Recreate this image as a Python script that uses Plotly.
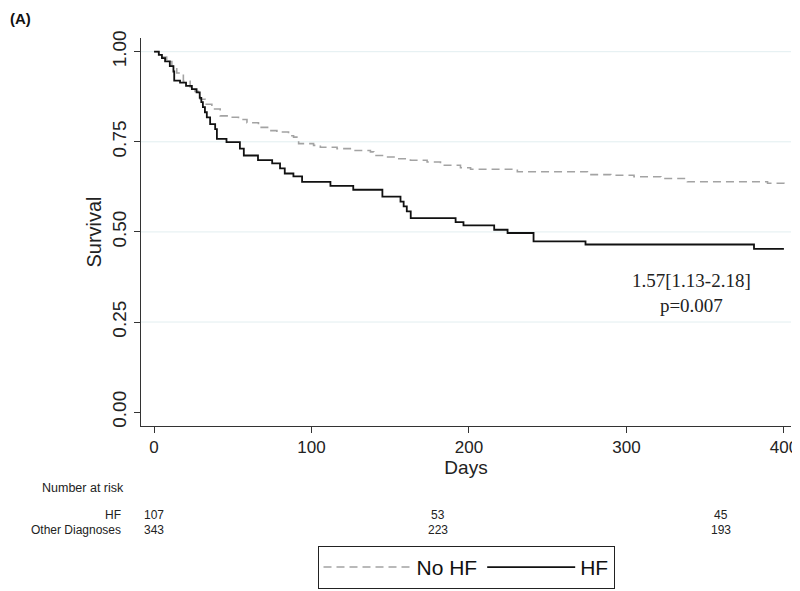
import plotly.graph_objects as go

# ---- data ----
hf_days = [0, 3, 5, 7, 10, 12.3, 12.8, 16.5, 20.3, 24, 27, 29, 30, 31, 32.3, 33.5, 35.6, 38.8, 39.9,
           46, 54.5, 57, 66, 75, 80, 83, 88.5, 94, 112, 126.5, 145, 156.5, 158.5, 160.5, 163,
           191.5, 196.5, 216, 224.5, 241, 274, 381, 400]
hf_surv = [1.0, 0.991, 0.982, 0.973, 0.960, 0.945, 0.920, 0.914, 0.905, 0.896, 0.887, 0.872, 0.860,
           0.846, 0.832, 0.818, 0.799, 0.785, 0.758, 0.749, 0.731, 0.712, 0.699, 0.690, 0.676, 0.662,
           0.654, 0.639, 0.628, 0.617, 0.598, 0.584, 0.571, 0.557, 0.538, 0.527, 0.518, 0.506, 0.497,
           0.474, 0.465, 0.453, 0.453]

nohf_days = [0, 3, 5, 8, 11.3, 14.4, 16.5, 18.6, 22.9, 26, 28.2, 29.3, 32.4, 36.7, 42, 48.3, 53.6,
             59, 66.3, 72.7, 78, 85.4, 88.6, 91.8, 101.3, 105.6, 116.2, 126.7, 137.4, 139.5, 145.8,
             154.4, 162.8, 173.4, 181.9, 194.6, 201, 230.7, 275.2, 290, 304.8, 321.8, 338.7, 389.6, 400]
nohf_surv = [1.0, 0.993, 0.985, 0.973, 0.960, 0.941, 0.937, 0.918, 0.902, 0.890, 0.877, 0.868, 0.854,
             0.841, 0.822, 0.818, 0.812, 0.803, 0.790, 0.781, 0.777, 0.767, 0.763, 0.745, 0.740,
             0.735, 0.731, 0.726, 0.722, 0.712, 0.708, 0.703, 0.699, 0.694, 0.685, 0.678, 0.674,
             0.667, 0.659, 0.657, 0.653, 0.648, 0.639, 0.635, 0.632]

x_ticks = [0, 100, 200, 300, 400]
y_ticks = [0.0, 0.25, 0.5, 0.75, 1.0]
y_ticklabels = ["0.00", "0.25", "0.50", "0.75", "1.00"]
y_gridlines = [0.25, 0.5, 0.75, 1.0]

risk_times = [0, 180, 360]
risk_groups = ["HF", "Other Diagnoses"]
risk_hf = [107, 53, 45]
risk_other = [343, 223, 193]

hr_text = "1.57[1.13-2.18]"
p_text = "p=0.007"

SANS = "Liberation Sans, Arial, sans-serif"

fig = go.Figure()
fig.add_trace(go.Scatter(x=nohf_days, y=nohf_surv, mode="lines", name="No HF",
                         line=dict(shape="hv", color="#a3a3a3", width=1.6, dash="8px,5px")))
fig.add_trace(go.Scatter(x=hf_days, y=hf_surv, mode="lines", name="HF",
                         line=dict(shape="hv", color="#111111", width=1.8)))

shapes = [dict(type="line", xref="paper", x0=0, x1=1, yref="y", y0=g, y1=g, layer="below",
               line=dict(color="#e2eef0", width=1)) for g in y_gridlines]

annotations = []
annotations.append(dict(x=341.5, y=0.33, xref="x", yref="y", text=hr_text + "<br>" + p_text,
                        showarrow=False, align="center",
                        font=dict(family="Liberation Serif, Times New Roman, serif", size=19, color="#222")))
annotations.append(dict(x=-0.205, y=1.0765, xref="paper", yref="paper", text="<b>(A)</b>",
                        showarrow=False, xanchor="left", yanchor="top",
                        font=dict(family=SANS, size=15, color="#111")))
annotations.append(dict(x=-0.155, y=-0.161, xref="paper", yref="paper", text="Number at risk",
                        showarrow=False, xanchor="left", yanchor="middle",
                        font=dict(family=SANS, size=12.5, color="#222")))
row_y = [-0.2285, -0.2680]
for gi, (g, vals) in enumerate(zip(risk_groups, [risk_hf, risk_other])):
    annotations.append(dict(x=-0.028, y=row_y[gi], xref="paper", yref="paper", text=g,
                            showarrow=False, xanchor="right", yanchor="middle",
                            font=dict(family=SANS, size=12, color="#222")))
    for t, v in zip(risk_times, vals):
        annotations.append(dict(x=t, y=row_y[gi], xref="x", yref="paper", text=str(v),
                                showarrow=False, xanchor="center", yanchor="middle",
                                font=dict(family=SANS, size=12, color="#222")))

fig.update_layout(
    width=800, height=591,
    margin=dict(l=133, r=10, t=30, b=161),
    paper_bgcolor="white", plot_bgcolor="white",
    font=dict(family=SANS, color="#222"),
    annotations=annotations,
    shapes=shapes,
    showlegend=True,
    legend=dict(orientation="h", x=0.5, xanchor="center", y=-0.309, yanchor="top",
                bordercolor="#222", borderwidth=1, font=dict(family=SANS, size=21, color="#111"),
                itemwidth=88, bgcolor="white"),
    xaxis=dict(range=[-8.3, 404.5], tickvals=x_ticks, showgrid=False, zeroline=False,
               showline=True, linecolor="#333", linewidth=1, ticks="outside", ticklen=6,
               tickcolor="#333", tickfont=dict(size=17, family=SANS, color="#222"),
               title=dict(text="Days", font=dict(size=19, family=SANS, color="#222"), standoff=0)),
    yaxis=dict(range=[-0.0385, 1.038], tickvals=y_ticks, ticktext=y_ticklabels, tickangle=-90,
               showgrid=False, zeroline=False,
               showline=True, linecolor="#333", linewidth=1, ticks="outside", ticklen=6,
               tickcolor="#333", tickfont=dict(size=19, family=SANS, color="#222"),
               title=dict(text="Survival", font=dict(size=20, family=SANS, color="#222"), standoff=2)),
)

fig.write_html("out.html")
